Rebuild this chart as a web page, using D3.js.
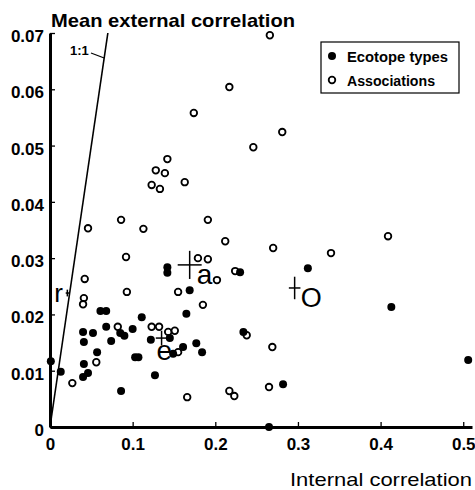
<!DOCTYPE html>
<html>
<head>
<meta charset="utf-8">
<script src="https://cdn.jsdelivr.net/npm/d3@7"></script>
<style>
  body { margin: 0; background: #fff; }
  svg { display: block; font-family: "Liberation Sans", Arial, sans-serif; }
</style>
</head>
<body>
<div id="chart"></div>
<script>
const width = 475, height = 490;

// Ecotope types (filled): [internal, mean external]
const ecotopeX = [0.230, 0.312, 0.413, 0.506, 0.282, 0.265, 0.234, 0.142, 0.142, 0.169,
  0.165, 0.111, 0.061, 0.068, 0.068, 0.040, 0.052, 0.041, 0.085, 0.090,
  0.074, 0.100, 0.057, 0.103, 0.107, 0.041, 0.001, 0.013, 0.046, 0.040,
  0.086, 0.122, 0.145, 0.177, 0.161, 0.184, 0.149, 0.127];
const ecotopeY = [0.0275, 0.0282, 0.0213, 0.0119, 0.0076, 0.0000, 0.0169, 0.0284, 0.0274, 0.0243,
  0.0201, 0.0195, 0.0206, 0.0206, 0.0178, 0.0169, 0.0167, 0.0151, 0.0167, 0.0162,
  0.0153, 0.0174, 0.0133, 0.0124, 0.0124, 0.0112, 0.0117, 0.0098, 0.0096, 0.0089,
  0.0064, 0.0155, 0.0158, 0.0149, 0.0142, 0.0133, 0.0130, 0.0092];

// Associations (open)
const assocX = [0.266, 0.217, 0.174, 0.281, 0.246, 0.142, 0.128, 0.139, 0.163, 0.123,
  0.133, 0.086, 0.191, 0.046, 0.113, 0.212, 0.409, 0.092, 0.179, 0.191,
  0.042, 0.202, 0.270, 0.340, 0.093, 0.155, 0.041, 0.040, 0.185, 0.082,
  0.123, 0.132, 0.143, 0.151, 0.056, 0.027, 0.166, 0.217, 0.223, 0.238,
  0.269, 0.265, 0.224, 0.155];
const assocY = [0.0696, 0.0604, 0.0558, 0.0524, 0.0497, 0.0476, 0.0456, 0.0451, 0.0435, 0.0430,
  0.0423, 0.0368, 0.0368, 0.0353, 0.0352, 0.0330, 0.0339, 0.0302, 0.0300, 0.0298,
  0.0263, 0.0261, 0.0318, 0.0309, 0.0240, 0.0240, 0.0229, 0.0218, 0.0217, 0.0178,
  0.0178, 0.0178, 0.0169, 0.0171, 0.0115, 0.0078, 0.0053, 0.0064, 0.0055, 0.0163,
  0.0142, 0.0071, 0.0277, 0.0133];

// group means with error bars
const groupNames = ["a", "O", "e", "r"];
const groupX = [0.169, 0.296, 0.135, 0.021];
const groupY = [0.0288, 0.0247, 0.0158, 0.0238];
const groupErrX = [0.0145, 0.007, 0.007, 0.002];
const groupErrY = [0.0025, 0.002, 0.0013, 0.0006];

const xTicks = [0, 0.1, 0.2, 0.3, 0.4, 0.5];
const yTicks = [0, 0.01, 0.02, 0.03, 0.04, 0.05, 0.06, 0.07];
const legendLabels = ["Ecotope types", "Associations"];

const x = d3.scaleLinear().domain([0, 0.5106]).range([50, 472]);
const y = d3.scaleLinear().domain([0, 0.07]).range([427, 33]);

const svg = d3.select("#chart").append("svg")
  .attr("width", width)
  .attr("height", height);

// axes
const yAxis = d3.axisLeft(y)
  .tickValues(yTicks)
  .tickSizeInner(-5)
  .tickSizeOuter(0)
  .tickPadding(6)
  .tickFormat(d => d === 0 ? "0" : d3.format(".2f")(d));
const gy = svg.append("g").attr("transform", "translate(50,0)").call(yAxis);

const xAxis = d3.axisBottom(x)
  .tickValues(xTicks)
  .tickSizeInner(-5)
  .tickSizeOuter(0)
  .tickPadding(11)
  .tickFormat(d => d === 0 ? "0" : d3.format(".1f")(d));
const gx = svg.append("g").attr("transform", "translate(0,427)").call(xAxis);

[gx, gy].forEach(g => {
  g.select(".domain").attr("stroke", "#000").attr("stroke-width", 3);
  g.selectAll(".tick line").attr("stroke", "#000").attr("stroke-width", 1.3);
  g.selectAll(".tick text")
    .attr("fill", "#000")
    .attr("font-size", "17px")
    .attr("font-weight", "bold")
    .attr("font-family", "Liberation Sans, Arial, sans-serif");
});
gy.selectAll(".tick text").attr("dy", "0.5em");

// 1:1 line
svg.append("line")
  .attr("x1", x(0)).attr("y1", y(0))
  .attr("x2", x(0.07)).attr("y2", y(0.07))
  .attr("stroke", "#000").attr("stroke-width", 1.6);
svg.append("line")
  .attr("x1", 91).attr("y1", 53)
  .attr("x2", x((427 - 58) / 5630)).attr("y2", 58)
  .attr("stroke", "#000").attr("stroke-width", 1.2);
svg.append("text")
  .attr("x", 70).attr("y", 55)
  .attr("font-size", "13px").attr("font-weight", "bold")
  .text("1:1");

// group means
groupNames.forEach((name, i) => {
  const cx = x(groupX[i]), cy = y(groupY[i]);
  svg.append("line")
    .attr("x1", x(groupX[i] - groupErrX[i])).attr("x2", x(groupX[i] + groupErrX[i]))
    .attr("y1", cy).attr("y2", cy)
    .attr("stroke", "#000").attr("stroke-width", 1.5);
  svg.append("line")
    .attr("x1", cx).attr("x2", cx)
    .attr("y1", y(groupY[i] - groupErrY[i])).attr("y2", y(groupY[i] + groupErrY[i]))
    .attr("stroke", "#000").attr("stroke-width", 1.5);
});
const labelOffsets = [[7, 19], [6, 19], [-5, 22], [-13, 9]];
const labelSizes = [28, 27, 28, 26];
svg.selectAll(".glabel")
  .data(groupNames)
  .join("text")
  .attr("class", "glabel")
  .attr("x", (d, i) => x(groupX[i]) + labelOffsets[i][0])
  .attr("y", (d, i) => y(groupY[i]) + labelOffsets[i][1])
  .attr("font-size", (d, i) => labelSizes[i] + "px")
  .text(d => d);

// points
svg.selectAll(".assoc")
  .data(assocX)
  .join("circle")
  .attr("class", "assoc")
  .attr("cx", d => x(d))
  .attr("cy", (d, i) => y(assocY[i]))
  .attr("r", 3.3)
  .attr("fill", "#fff")
  .attr("stroke", "#000")
  .attr("stroke-width", 1.8);

svg.selectAll(".eco")
  .data(ecotopeX)
  .join("circle")
  .attr("class", "eco")
  .attr("cx", d => x(d))
  .attr("cy", (d, i) => y(ecotopeY[i]))
  .attr("r", 4)
  .attr("fill", "#000");

// titles
svg.append("text")
  .attr("x", 51).attr("y", 27)
  .attr("font-size", "19px").attr("font-weight", "bold")
  .attr("textLength", 244).attr("lengthAdjust", "spacingAndGlyphs")
  .text("Mean external correlation");
svg.append("text")
  .attr("x", 290).attr("y", 486)
  .attr("font-size", "19px")
  .attr("textLength", 182).attr("lengthAdjust", "spacingAndGlyphs")
  .text("Internal correlation");

// legend
const legend = svg.append("g");
legend.append("rect")
  .attr("x", 321).attr("y", 42).attr("width", 138).attr("height", 51)
  .attr("fill", "#fff").attr("stroke", "#000").attr("stroke-width", 1.2);
legendLabels.forEach((lab, i) => {
  const ly = 56 + i * 24;
  legend.append("circle")
    .attr("cx", 332).attr("cy", ly)
    .attr("r", i === 0 ? 4 : 3.3)
    .attr("fill", i === 0 ? "#000" : "#fff")
    .attr("stroke", "#000").attr("stroke-width", i === 0 ? 0 : 1.8);
  legend.append("text")
    .attr("x", 347).attr("y", ly + 6)
    .attr("font-size", "14px").attr("font-weight", "bold")
    .attr("textLength", i === 0 ? 101 : 88).attr("lengthAdjust", "spacingAndGlyphs")
    .text(lab);
});
</script>
</body>
</html>
